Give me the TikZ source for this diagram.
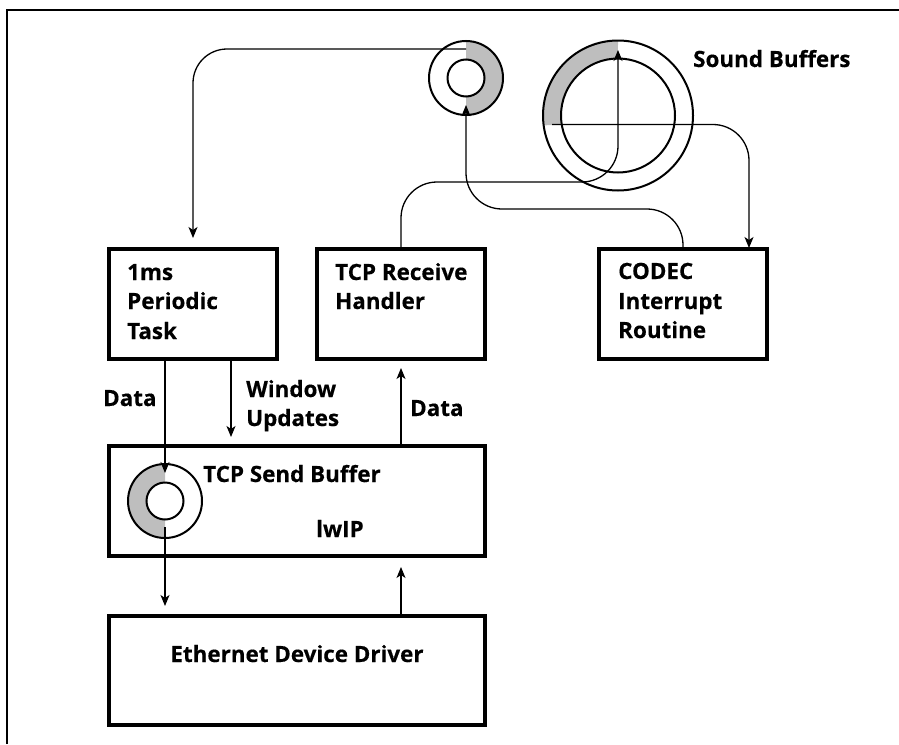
\documentclass[tikz,border=0pt]{standalone}
\usepackage{fontspec}
\setmainfont{Open Sans}[BoldFeatures={FakeBold=0.35}]
\usetikzlibrary{arrows.meta,calc}
\definecolor{ringgrey}{RGB}{190,190,190}
\tikzset{
  boxnode/.style={draw, line width=4pt, inner sep=0pt, minimum width=168pt, minimum height=110pt},
  lbl/.style={anchor=base west, inner sep=0pt, font=\fontsize{22.4}{26}\selectfont\bfseries},
  conn/.style={line width=1.3pt},
  arr/.style={conn, -{Stealth[length=11pt,width=9pt,inset=3pt]}},
  ring/.style={line width=2pt},
}
\begin{document}
\begin{tikzpicture}[x=1pt,y=1pt]
\useasboundingbox (0,0) rectangle (899,-744);
% frame
\draw[line width=1.5pt] (7,-744) -- (7,-10) -- (899,-10);

% boxes
\node[boxnode] (p) at (193,-304) {};
\node[boxnode] (r) at (401,-304) {};
\node[boxnode] (c) at (683,-304) {};
\node[boxnode, minimum width=376pt] (s) at (297,-501) {};
\node[boxnode, minimum width=376pt, minimum height=109pt] (e) at (297,-670.5) {};

% box texts
\node[lbl] (p1) at (127,-280) {1ms};
\node[lbl] (p2) at (127,-309) {Periodic};
\node[lbl] (p3) at (127,-339) {Task};
\node[lbl] (r1) at (335,-280) {TCP Receive};
\node[lbl] (r2) at (335,-309) {Handler};
\node[lbl] (c1) at (618,-279) {CODEC};
\node[lbl] (c2) at (618,-309) {Interrupt};
\node[lbl] (c3) at (618,-338) {Routine};
\node[lbl] (s1) at (203,-482) {TCP Send Buffer};
\node[lbl] (s2) at (316,-537) {lwIP};
\node[lbl, anchor=base] (e1) at (297,-662) {Ethernet Device Driver};
\node[lbl] (sb) at (693,-67) {Sound Buffers};
\node[lbl] (d1) at (103,-406) {Data};
\node[lbl] (w1) at (246,-397) {Window};
\node[lbl] (w2) at (246,-426) {Updates};
\node[lbl] (d2) at (410,-416) {Data};

% ring centres
\coordinate (ta) at (466,-78);
\coordinate (tb) at (618,-115.5);
\coordinate (tc) at (165,-501);

% small top ring: right half grey
\fill[ringgrey] ($(ta)+(0,37)$) arc[start angle=90,end angle=-90,radius=37]
  -- ($(ta)+(0,-18.5)$) arc[start angle=-90,end angle=90,radius=18.5] -- cycle;
\draw[ring] (ta) circle[radius=37];
\draw[ring] (ta) circle[radius=18.5];

% big ring: upper-left grey
\fill[ringgrey] ($(tb)+(0,75)$) arc[start angle=90,end angle=187.6,radius=75]
  -- ($(tb)+(-56.3,-9)$) arc[start angle=189.2,end angle=90,radius=57] -- cycle;
\draw[ring] (tb) circle[radius=75];
\draw[ring] (tb) circle[radius=57];

% send ring: left half grey
\fill[ringgrey] ($(tc)+(0,37)$) arc[start angle=90,end angle=270,radius=37]
  -- ($(tc)+(0,-18.5)$) arc[start angle=270,end angle=90,radius=18.5] -- cycle;
\draw[ring] (tc) circle[radius=37];
\draw[ring] (tc) circle[radius=18.5];

% connector end points
\coordinate (tatop) at (466,-49);
\coordinate (tabot) at (466,-105);
\coordinate (tbtip) at (618,-50);
\coordinate (tbh) at (552,-124.5);
\coordinate (tctop) at (165,-473);
\coordinate (tcbot) at (165,-527);

% connectors at the top
\draw[arr, rounded corners=34pt] (tatop) -- (193,-49) -- ([yshift=9pt]p.north);
\draw[arr, rounded corners=36pt] (r.north) |- (618,-182) -- (tbtip);
\draw[arr, rounded corners=36pt] (c.north) |- (466,-209) -- (tabot);
\draw[arr, rounded corners=36pt] (tbh) -| ([yshift=-1pt]c.north -| 749,0);

% connectors at the bottom
\draw[arr] (p.south -| tctop) -- (tctop);
\draw[arr] (p.south -| 231,0) -- ([yshift=7pt]s.north -| 231,0);
\draw[arr] (s.north -| r.north) -- ([yshift=-7pt]r.south);
\draw[arr] (tcbot) -- ([yshift=8pt]e.north -| tcbot);
\draw[arr] (e.north -| 401,0) -- ([yshift=-9pt]s.south -| 401,0);
\end{tikzpicture}
\end{document}
